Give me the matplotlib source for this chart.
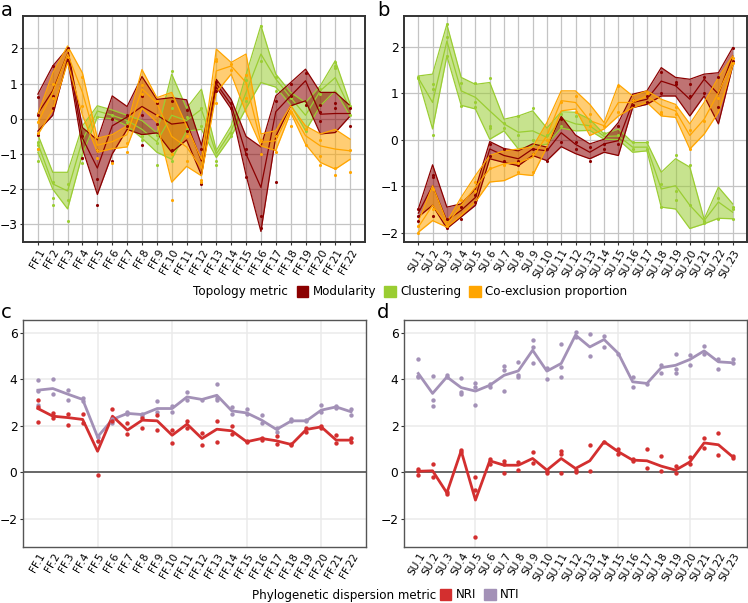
import numpy as np
import matplotlib
matplotlib.use("Agg")
import matplotlib.pyplot as plt
from matplotlib.patches import Patch

# ---- data ----
ff_sites = ["FF.%d" % i for i in range(1, 23)]
su_sites = ["SU.%d" % i for i in range(1, 24)]

# panel a (FF): mean, ribbon low, ribbon high, replicate points
mod_ff_mean = [0.15, 0.8, 1.85, -0.55, -1.4, -0.2, 0.05, 0.35, 0.1, -0.15, -0.1, -1.2, 1.0, 0.4, -1.0, -1.95, 0.2, 0.65, 1.08, 0.13, 0.15, 0.15]
mod_ff_lo = [-0.35, 0.1, 1.7, -0.85, -2.15, -1.0, -0.3, -0.45, -0.4, -0.95, -0.6, -1.6, 0.9, 0.28, -1.6, -3.2, -0.5, 0.37, 0.51, -0.43, -0.39, 0.08]
mod_ff_hi = [0.7, 1.5, 2.0, -0.25, -0.6, 0.65, 0.35, 1.2, 0.55, 0.6, 0.54, -0.75, 1.12, 0.55, -0.5, -0.8, 0.65, 1.03, 1.41, 0.75, 0.75, 0.37]
mod_ff_pts = [[0.62, -0.45, 0.1], [1.5, 0.3, 0.65], [2.0, 1.75], [-1.1, -0.5], [-1.7, -2.45, -0.9], [-1.2, 0.0],
              [0.1, -0.2], [-0.75, 0.1, 0.65], [-0.15, 0.45], [0.5, -0.9], [0.25, -0.35], [-0.85, -1.85],
              [1.05, 0.8], [0.45, 0.3], [-0.85, -1.65, -1.0], [-2.75, -3.1], [0.5, -1.8, -0.5], [1.0, 0.65],
              [1.3, 0.4], [0.4, -0.05, 0.2], [0.45, 0.3], [0.3, -0.2]]

cl_ff_mean = [-0.7, -1.85, -2.05, -0.6, 0.22, 0.1, -0.05, -0.3, -0.65, 0.1, -0.05, 0.27, -1.0, -0.35, 0.75, 1.84, 1.13, 0.6, 0.1, 0.8, 1.17, 0.27]
cl_ff_lo = [-0.95, -2.0, -2.56, -1.0, 0.05, 0.0, -0.2, -0.55, -0.95, -1.15, -0.35, -0.3, -1.1, -0.5, 0.3, 1.03, 0.9, 0.4, -0.34, 0.37, 0.8, 0.08]
cl_ff_hi = [-0.45, -1.52, -1.52, -0.2, 0.37, 0.25, 0.1, -0.05, -0.4, 1.27, 0.3, 0.84, -0.9, -0.2, 1.25, 2.65, 1.27, 0.75, 0.46, 0.94, 1.65, 0.42]
cl_ff_pts = [[-0.65, -0.75, -0.85, -1.2], [-2.25, -2.45, -1.8], [-1.85, -2.3, -2.9], [-1.1, -1.25], [0.05], [0.1],
             [-0.1], [-0.5, -0.6], [-1.3, -0.7, -0.45], [1.35, -1.2, 0.3], [0.05, -0.3], [0.3, -0.2],
             [-1.3, -1.2], [-0.5, -0.4], [1.1, 0.5], [2.65, 1.65], [1.2, 0.8], [0.6], [0.4, -0.35],
             [0.85, 0.7], [1.6, 1.5, 1.45], [0.35, 0.1]]

or_ff_mean = [-0.1, 0.75, 1.84, 0.75, -0.75, -0.65, -0.45, 0.85, 0.45, -0.5, -0.8, -1.4, 1.36, 1.5, 1.03, -0.67, -0.62, 0.25, -0.48, -0.77, -0.86, -0.91]
or_ff_lo = [-0.45, 0.25, 1.6, 0.1, -0.95, -0.85, -0.8, 0.3, -0.1, -1.8, -1.35, -1.62, 0.75, 1.27, 0.18, -0.77, -0.9, 0.18, -0.72, -1.24, -1.43, -1.15]
or_ff_hi = [0.13, 1.3, 2.07, 1.3, -0.55, -0.45, -0.2, 1.4, 0.6, 0.75, -0.2, -1.15, 1.98, 1.6, 1.84, -0.43, -0.34, 0.37, -0.2, -0.43, -0.3, -0.58]
or_ff_pts = [[-0.1, -0.4, -0.85], [1.0, 0.6], [1.95, 1.75], [1.2, 0.35], [-0.9, -1.1], [-1.25], [-0.95, -0.7],
             [0.95, 0.7], [0.5, 0.1], [-2.3, -1.0], [-1.2, -0.5], [-1.8, -1.75], [1.7, 1.65, 0.45], [1.55, 1.4],
             [0.6, 1.25], [-1.0, -0.6], [-0.95, -0.5], [0.2, -0.2], [-0.75, -0.3], [-1.05, -1.3, -0.6],
             [-1.4, -1.6], [-0.9, -1.5]]

# panel b (SU)
mod_su_mean = [-1.58, -0.99, -1.74, -1.52, -1.24, -0.2, -0.34, -0.41, -0.2, -0.24, 0.15, -0.1, -0.27, -0.09, -0.02, 0.8, 0.87, 1.26, 1.16, 0.87, 1.3, 0.98, 1.8]
mod_su_lo = [-1.66, -1.41, -1.91, -1.66, -1.41, -0.41, -0.49, -0.56, -0.34, -0.45, -0.15, -0.3, -0.41, -0.27, -0.34, 0.69, 0.76, 0.94, 0.94, 0.51, 0.94, 0.34, 1.59]
mod_su_hi = [-1.49, -0.54, -1.45, -1.38, -1.06, -0.04, -0.19, -0.24, -0.09, -0.16, 0.5, 0.1, -0.09, 0.01, 0.37, 0.98, 1.05, 1.55, 1.34, 1.3, 1.41, 1.44, 1.98]
mod_su_pts = [[-1.5, -1.65, -1.75], [-0.75, -0.8, -1.65], [-1.7, -1.9], [-1.7, -1.45], [-1.2, -1.35], [-0.1, -0.35],
              [-0.2, -0.45], [-0.45, -0.55], [-0.2, -0.3], [-0.2, -0.45], [0.45, -0.05], [-0.05, -0.2],
              [-0.45, -0.15], [-0.1, -0.2], [-0.1, 0.3], [0.85, 0.75], [0.95, 0.8], [1.45, 1.0], [1.25, 1.2],
              [1.2, 0.95], [1.35, 1.0], [1.35, 0.7], [1.98, 1.7]]

cl_su_mean = [1.33, 0.8, 2.12, 1.05, 0.91, 0.62, 0.34, 0.16, 0.19, 0.05, 0.45, 0.34, 0.3, 0.07, 0.08, -0.16, -0.16, -1.06, -0.99, -1.41, -1.74, -1.34, -1.56]
cl_su_lo = [1.3, 0.23, 1.8, 0.74, 0.66, 0.01, 0.19, -0.2, -0.13, -0.1, 0.25, 0.19, 0.2, 0.01, 0.0, -0.27, -0.24, -1.45, -1.49, -1.91, -1.81, -1.69, -1.7]
cl_su_hi = [1.37, 1.41, 2.48, 1.34, 1.19, 1.23, 0.44, 0.51, 0.62, 0.25, 0.6, 0.59, 0.44, 0.12, 0.23, -0.06, -0.06, -0.7, -0.41, -0.59, -1.71, -1.02, -1.38]
cl_su_pts = [[1.35, 1.32], [1.2, 1.1, 0.1], [2.48, 2.2, 1.8], [1.22, 0.73], [1.22, 0.8, 0.7], [1.32, 0.3, 0.25],
             [0.35, 0.25], [0.5, 0.1], [0.68, 0.0], [0.1], [0.55, 0.3], [0.5], [0.4], [0.15], [0.1],
             [-0.05, -0.2], [-0.05, -0.2], [-0.95, -1.45], [-0.33, -1.3, -1.1], [-0.55, -1.4],
             [-1.75, -1.8], [-1.25, -1.7], [-1.45, -1.5, -1.7]]

or_su_mean = [-1.88, -1.41, -1.83, -1.41, -1.02, -0.63, -0.52, -0.49, -0.38, 0.09, 0.84, 0.8, 0.41, 0.3, 0.8, 0.8, 0.94, 0.73, 0.62, 0.09, 0.44, 1.01, 1.69]
or_su_lo = [-1.99, -1.74, -1.88, -1.63, -1.34, -0.91, -0.88, -0.74, -0.77, -0.16, 0.62, 0.66, 0.09, 0.23, 0.51, 0.69, 0.8, 0.51, 0.48, -0.2, 0.12, 0.59, 1.59]
or_su_hi = [-1.77, -0.99, -1.77, -1.24, -0.77, -0.34, -0.24, -0.2, -0.16, 0.37, 1.05, 1.05, 0.76, 0.37, 1.19, 0.94, 1.05, 0.87, 0.76, 0.34, 0.8, 1.34, 1.8]
or_su_pts = [[-1.85, -2.0], [-1.05, -1.5], [-1.85], [-1.3], [-0.9, -1.1], [-0.6], [-0.55], [-0.5, -0.7],
             [-0.7, -0.3], [0.0], [0.8], [0.95, 0.6], [0.55, 0.3], [0.3], [1.15, 0.6], [0.85], [1.0],
             [0.6, 0.55], [0.55, 0.7], [0.2, -0.2], [0.4], [0.9], [1.75, 1.65]]

# panel c (FF) phylogenetic dispersion
nti_ff = [3.53, 3.6, 3.36, 3.13, 1.52, 2.27, 2.53, 2.48, 2.74, 2.74, 3.24, 3.13, 3.31, 2.64, 2.55, 2.24, 1.84, 2.21, 2.21, 2.67, 2.81, 2.6]
nri_ff = [2.74, 2.41, 2.35, 2.27, 0.9, 2.41, 1.81, 2.24, 2.21, 1.59, 2.07, 1.45, 1.85, 1.78, 1.31, 1.45, 1.35, 1.19, 1.84, 1.95, 1.38, 1.38]
nti_ff_pts = [[3.95, 2.9, 3.5], [4.02, 3.35], [3.55, 3.1], [3.2, 3.05], [1.5, 1.35], [2.3, 2.1], [2.6, 2.5],
              [2.5, 2.4], [3.05, 2.6], [2.85, 2.6], [3.45, 3.1], [3.1], [3.8, 3.1, 3.2], [2.8, 2.5], [2.7, 2.5],
              [2.45, 2.1], [1.9, 1.75], [2.2, 2.3], [2.2, 2.25], [2.9, 2.6], [2.85, 2.75], [2.7, 2.45]]
nri_ff_pts = [[3.1, 2.15, 2.8], [2.55, 2.35], [2.5, 2.05], [2.5, 2.1], [1.35, -0.1], [2.7, 2.2], [2.1, 1.65],
              [2.35, 1.9], [2.45, 1.8], [1.8, 1.25], [2.2, 1.9], [1.7, 1.15], [2.2, 1.3], [2.0, 1.65],
              [1.35, 1.3], [1.45, 1.4], [1.55, 1.2], [1.2, 1.15], [1.9, 1.75], [2.0, 1.9], [1.6, 1.25], [1.45, 1.3]]

# panel d (SU)
nti_su = [4.25, 3.39, 4.1, 3.64, 3.49, 3.74, 4.17, 4.36, 5.25, 4.35, 4.68, 5.9, 5.39, 5.71, 5.11, 3.89, 3.82, 4.5, 4.6, 4.85, 5.22, 4.75, 4.71]
nri_su = [0.04, 0.06, -0.89, 0.92, -1.2, 0.49, 0.3, 0.3, 0.59, 0.09, 0.59, 0.16, 0.49, 1.31, 0.88, 0.52, 0.49, 0.26, 0.09, 0.44, 1.26, 1.18, 0.66]
nti_su_pts = [[4.85, 4.1, 4.15], [4.15, 3.1, 2.85], [4.2, 4.1], [4.05, 3.45, 3.35], [3.85, 3.65, 2.9], [3.8, 3.65],
              [4.55, 4.4, 3.5], [4.75, 4.2, 4.1], [5.7, 5.4, 4.7], [4.5, 4.0], [5.5, 4.53, 4.1], [6.05, 5.8],
              [5.95, 5.0], [5.85, 5.4], [5.1], [4.1, 3.65], [3.8], [4.6, 4.25], [5.1, 4.45, 4.25], [5.05, 4.6],
              [5.45, 5.1], [4.85, 4.45], [4.85, 4.7]]
nri_su_pts = [[0.15, 0.05, -0.1], [0.35, -0.2], [-0.85, -0.95], [0.95, 0.85], [-0.2, -0.75, -2.8], [0.55, 0.35],
              [0.5, 0.35, -0.05], [0.45, 0.1], [0.85, 0.4], [0.05, -0.05], [0.9, 0.8, -0.05], [0.1, 0.0],
              [1.15, 0.05], [1.3], [1.0, 0.8], [0.55, 0.5], [1.0, 0.2], [0.7, 0.05], [0.25, -0.05],
              [0.65, 0.35], [1.45, 1.05], [1.7, 0.75], [0.7, 0.6]]

MOD_COL = "#8B0000"
CL_COL = "#9ACD32"
OR_COL = "#FFA500"
NRI_COL = "#D32F2F"
NTI_COL = "#A391B7"

W, H = 748, 603
fig = plt.figure(figsize=(W / 100, H / 100), dpi=100)


def box(l, t, r, b):
    return [l / W, 1 - b / H, (r - l) / W, (b - t) / H]


def ylabels(vals):
    return ["\u2212%d" % -v if v < 0 else "%d" % v for v in vals]


def draw_topology(ax, sites, series, ylim, yticks):
    x = np.arange(1, len(sites) + 1)
    for mean, lo, hi, pts, col in series:
        ax.fill_between(x, lo, hi, color=col, alpha=0.55, lw=0, zorder=2)
        ax.plot(x, lo, color=col, lw=0.9, zorder=3)
        ax.plot(x, hi, color=col, lw=0.9, zorder=3)
        ax.plot(x, mean, color=col, lw=0.9, zorder=3)
        for i, vals in enumerate(pts):
            ax.scatter([x[i]] * len(vals), vals, s=5, color=col, zorder=4, lw=0)
    ax.set_xlim(0, len(sites) + 1)
    ax.set_ylim(*ylim)
    ax.set_xticks(x)
    ax.set_xticklabels(sites, rotation=60, ha="right", va="top", rotation_mode="anchor", fontsize=7.6)
    ax.set_yticks(yticks)
    ax.set_yticklabels(ylabels(yticks), fontsize=8.8)
    ax.grid(True, color="#c4c4c4", lw=0.9, zorder=0)
    ax.set_axisbelow(True)
    for s in ax.spines.values():
        s.set_color("#333333")
        s.set_linewidth(1.4)
    ax.tick_params(axis="both", length=2.5, color="#333333", width=0.8, pad=1.5)


def draw_phylo(ax, sites, nri, nti, nri_pts, nti_pts):
    x = np.arange(1, len(sites) + 1)
    ax.axhline(0, color="#444444", lw=1.1, zorder=1)
    for vals_line, pts, col in [(nti, nti_pts, NTI_COL), (nri, nri_pts, NRI_COL)]:
        ax.plot(x, vals_line, color=col, lw=2, zorder=3)
        for i, vals in enumerate(pts):
            ax.scatter([x[i]] * len(vals), vals, s=10, color=col, zorder=4, lw=0)
    ax.set_xlim(0, len(sites) + 1)
    ax.set_ylim(-3.22, 6.55)
    ax.set_xticks(x)
    ax.set_xticklabels(sites, rotation=60, ha="right", va="top", rotation_mode="anchor", fontsize=7.6)
    ax.tick_params(axis="x", length=0, pad=3)
    ax.set_xticks([5, 10, 15, 20], minor=True)
    ax.tick_params(axis="x", which="minor", length=2.5, color="#333333")
    yt = [-2, 0, 2, 4, 6]
    ax.set_yticks(yt)
    ax.set_yticklabels(ylabels(yt), fontsize=8.8)
    ax.tick_params(axis="y", length=2.5, color="#333333", pad=1.5)
    ax.grid(False)
    for v in yt:
        ax.axhline(v, color="#ebebeb", lw=1.1, zorder=0)
    for v in [5, 10, 15, 20]:
        ax.axvline(v, color="#ebebeb", lw=1.1, zorder=0)
    for s in ax.spines.values():
        s.set_color("#555555")
        s.set_linewidth(1.0)


ax_a = fig.add_axes(box(23, 16, 365, 242))
draw_topology(ax_a, ff_sites,
              [(cl_ff_mean, cl_ff_lo, cl_ff_hi, cl_ff_pts, CL_COL),
               (mod_ff_mean, mod_ff_lo, mod_ff_hi, mod_ff_pts, MOD_COL),
               (or_ff_mean, or_ff_lo, or_ff_hi, or_ff_pts, OR_COL)],
              (-3.5, 2.92), [-3, -2, -1, 0, 1, 2])

ax_b = fig.add_axes(box(404, 16, 747, 242))
draw_topology(ax_b, su_sites,
              [(cl_su_mean, cl_su_lo, cl_su_hi, cl_su_pts, CL_COL),
               (mod_su_mean, mod_su_lo, mod_su_hi, mod_su_pts, MOD_COL),
               (or_su_mean, or_su_lo, or_su_hi, or_su_pts, OR_COL)],
              (-2.2, 2.66), [-2, -1, 0, 1, 2])

ax_c = fig.add_axes(box(23, 320, 366, 547))
draw_phylo(ax_c, ff_sites, nri_ff, nti_ff, nri_ff_pts, nti_ff_pts)

ax_d = fig.add_axes(box(404, 320, 747, 547))
draw_phylo(ax_d, su_sites, nri_su, nti_su, nri_su_pts, nti_su_pts)

# panel letters
for lab, px, py in [("a", 1, 10), ("b", 377, 10), ("c", 1, 313), ("d", 377, 313)]:
    fig.text(px / W, 1 - py / H, lab, fontsize=14, ha="left", va="center")

# legends
fig.text(193 / W, 1 - 292 / H, "Topology metric", fontsize=8.6, ha="left", va="center")
fig.legend(handles=[Patch(color=MOD_COL), Patch(color=CL_COL), Patch(color=OR_COL)],
           labels=["Modularity", "Clustering", "Co-exclusion proportion"],
           loc="center left", bbox_to_anchor=(297 / W, 1 - 292 / H), ncol=3, frameon=False,
           fontsize=8.6, handlelength=0.95, handleheight=0.95, handletextpad=0.35,
           columnspacing=0.7, borderpad=0, borderaxespad=0)

fig.text(252 / W, 1 - 595 / H, "Phylogenetic dispersion metric", fontsize=8.6, ha="left", va="center")
fig.legend(handles=[Patch(color=NRI_COL), Patch(color=NTI_COL)],
           labels=["NRI", "NTI"],
           loc="center left", bbox_to_anchor=(440 / W, 1 - 595 / H), ncol=2, frameon=False,
           fontsize=8.6, handlelength=0.95, handleheight=0.95, handletextpad=0.35,
           columnspacing=0.7, borderpad=0, borderaxespad=0)

fig.savefig("out.png", dpi=100)
